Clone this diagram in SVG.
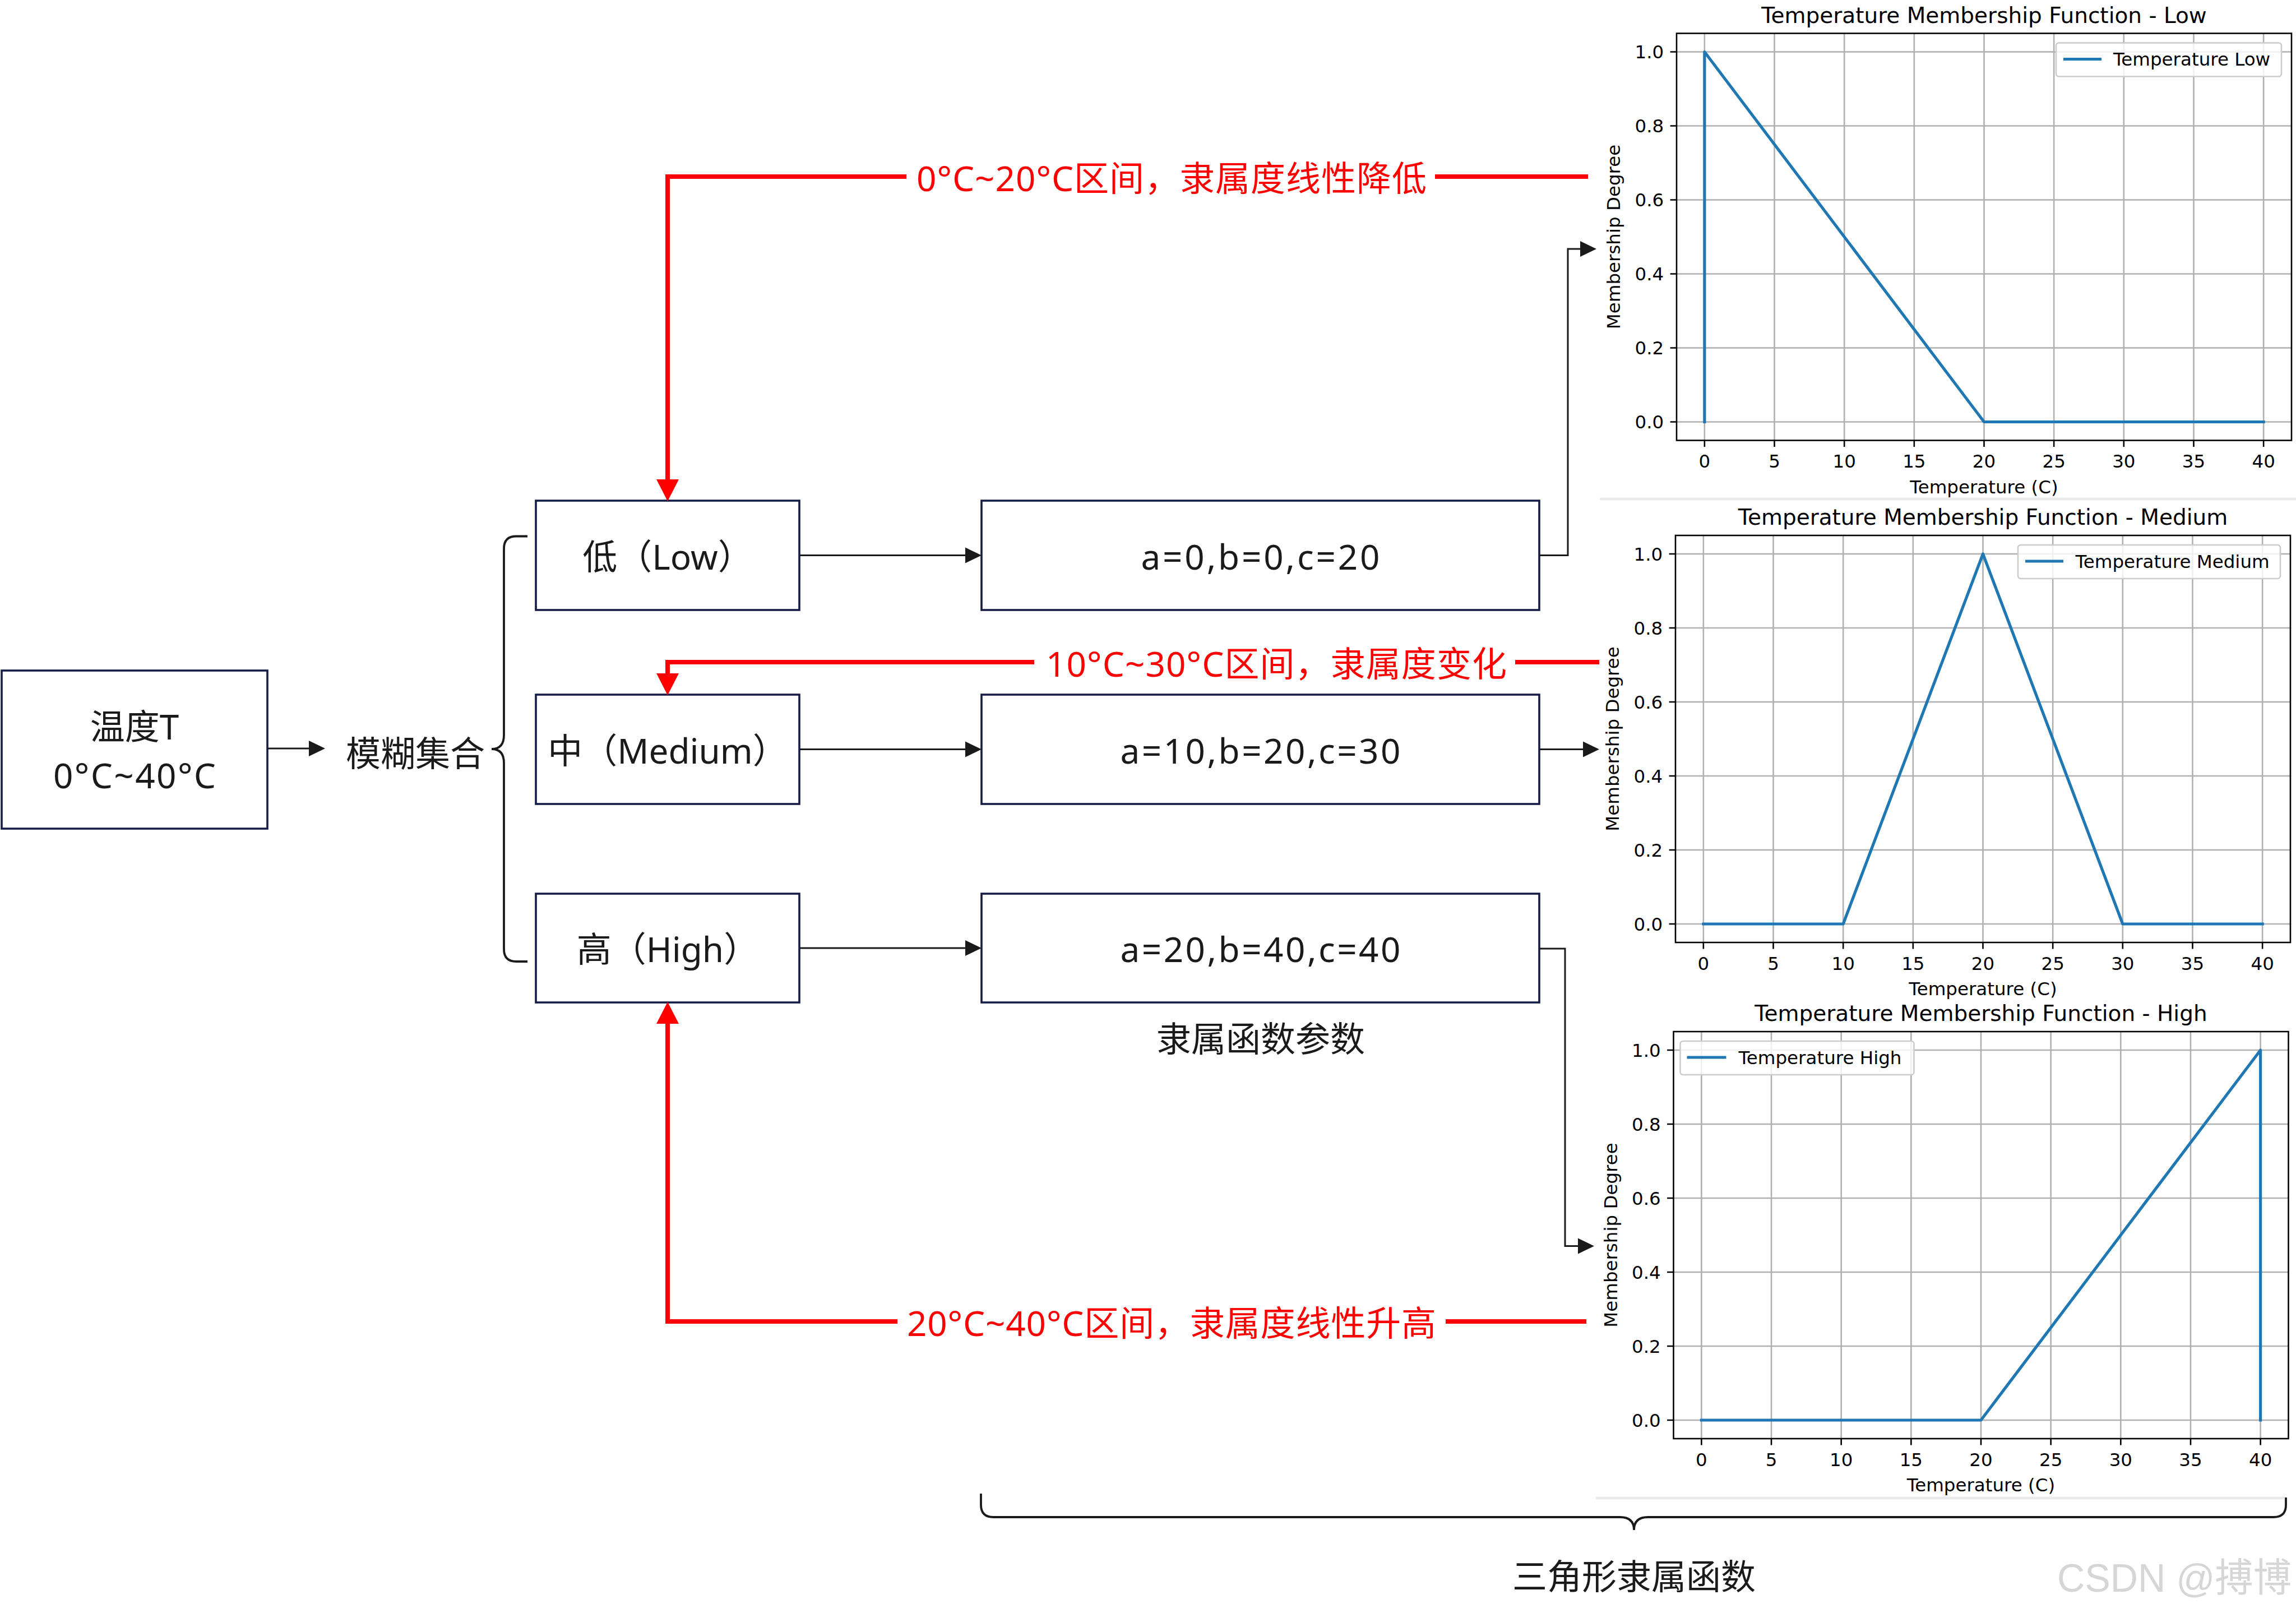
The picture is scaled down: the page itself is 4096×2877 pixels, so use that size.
<svg xmlns="http://www.w3.org/2000/svg" xmlns:xlink="http://www.w3.org/1999/xlink" width="4096" height="2877" viewBox="0 0 4096 2877">
<style>
.box{fill:#ffffff;stroke:#161c48;stroke-width:3.6}
.t{font-family:"Noto Sans","Noto Sans CJK SC",sans-serif;font-size:62px;fill:#1a1a1a}
.rt{font-family:"Noto Sans","Noto Sans CJK SC",sans-serif;font-size:62px;fill:#ff0000}
.conn{fill:none;stroke:#1a1a1a;stroke-width:3}
.rconn{fill:none;stroke:#ff0000;stroke-width:8}
.brace{fill:none;stroke:#1a1a1a;stroke-width:3.8}
.sep{stroke:#ebebeb;stroke-width:5}
.grid{fill:none;stroke:#b0b0b0;stroke-width:2.6}
.spine{fill:none;stroke:#000000;stroke-width:2.6}
.tick{fill:none;stroke:#000000;stroke-width:2.6}
.data{fill:none;stroke:#1f77b4;stroke-width:5.2;stroke-linejoin:round;stroke-linecap:square}
.ct{font-family:"DejaVu Sans",sans-serif;font-size:32.5px;fill:#000000}
.ttl{font-family:"DejaVu Sans",sans-serif;font-size:39px;fill:#000000}
.leg{fill:#ffffff;fill-opacity:0.8;stroke:#cccccc;stroke-width:2.6}
.wm{font-family:"Liberation Sans","Noto Sans CJK SC",sans-serif;font-size:70px;fill:#d6d6d6}
</style>
<defs>
<marker id="ab" markerUnits="userSpaceOnUse" markerWidth="30" markerHeight="28" refX="0" refY="14" orient="auto" overflow="visible"><path d="M0,0 L29,14 L0,28 Z" fill="#1a1a1a"/></marker>
<marker id="ar" markerUnits="userSpaceOnUse" markerWidth="40" markerHeight="40" refX="0" refY="20" orient="auto" overflow="visible"><path d="M0,0 L39,20 L0,40 Z" fill="#ff0000"/></marker>
<g id="axesbase">
<path class="grid" d="M49.86,0V726M174.52,0V726M299.18,0V726M423.84,0V726M548.5,0V726M673.16,0V726M797.82,0V726M922.48,0V726M1047.14,0V726M0,693H1097M0,561H1097M0,429H1097M0,297H1097M0,165H1097M0,33H1097"/>
<path class="tick" d="M49.86,726V737.4M174.52,726V737.4M299.18,726V737.4M423.84,726V737.4M548.5,726V737.4M673.16,726V737.4M797.82,726V737.4M922.48,726V737.4M1047.14,726V737.4M0,693H-11.4M0,561H-11.4M0,429H-11.4M0,297H-11.4M0,165H-11.4M0,33H-11.4"/>
</g>
</defs>
<rect x="0" y="0" width="4096" height="2877" fill="#ffffff"/>

<!-- image separators -->
<line class="sep" x1="2854" y1="890" x2="4096" y2="890"/>
<line class="sep" x1="2847" y1="2672" x2="4075" y2="2672"/>

<!-- nodes -->
<g id="node-temperature">
<rect class="box" x="3" y="1196" width="474" height="282"/>
<text class="t" x="240" y="1319" text-anchor="middle">温度T</text>
<text class="t" x="240" y="1406" text-anchor="middle" textLength="290" lengthAdjust="spacing">0°C~40°C</text>
</g>
<g id="node-fuzzy-set">
<text class="t" x="741" y="1367" text-anchor="middle">模糊集合</text>
</g>
<g id="brace-sets">
<path class="brace" d="M941,956.5 H921 Q899,956.5 899,978.5 V1311 Q899,1336 877,1336 Q899,1336 899,1361 V1693 Q899,1715 921,1715 H941"/>
</g>
<g id="node-low">
<rect class="box" x="956" y="893" width="470" height="195"/>
<text class="t" x="1191" y="1016" text-anchor="middle">低（Low）</text>
</g>
<g id="node-medium">
<rect class="box" x="956" y="1239" width="470" height="195"/>
<text class="t" x="1191" y="1362" text-anchor="middle">中（Medium）</text>
</g>
<g id="node-high">
<rect class="box" x="956" y="1594" width="470" height="194"/>
<text class="t" x="1191" y="1716" text-anchor="middle">高（High）</text>
</g>
<g id="node-param-low">
<rect class="box" x="1751" y="893" width="995" height="195"/>
<text class="t" x="2248.5" y="1016" text-anchor="middle" textLength="426" lengthAdjust="spacing">a=0,b=0,c=20</text>
</g>
<g id="node-param-medium">
<rect class="box" x="1751" y="1239" width="995" height="195"/>
<text class="t" x="2248.5" y="1362" text-anchor="middle" textLength="500" lengthAdjust="spacing">a=10,b=20,c=30</text>
</g>
<g id="node-param-high">
<rect class="box" x="1751" y="1594" width="995" height="194"/>
<text class="t" x="2248.5" y="1716" text-anchor="middle" textLength="500" lengthAdjust="spacing">a=20,b=40,c=40</text>
</g>
<g id="label-params">
<text class="t" x="2249" y="1876" text-anchor="middle">隶属函数参数</text>
</g>

<!-- chart: Low -->
<g id="chart-low" transform="translate(2991,59.5)">
<use xlink:href="#axesbase" href="#axesbase"/>
<path class="data" d="M49.86,693 L49.86,33 L548.5,693 L1047.14,693"/>
<rect class="spine" x="0" y="0" width="1097" height="726"/>
<g class="ct" text-anchor="end">
<text x="-22.8" y="704.8">0.0</text><text x="-22.8" y="572.8">0.2</text><text x="-22.8" y="440.8">0.4</text><text x="-22.8" y="308.8">0.6</text><text x="-22.8" y="176.8">0.8</text><text x="-22.8" y="44.8">1.0</text>
</g>
<g class="ct" text-anchor="middle">
<text x="49.86" y="774.5">0</text><text x="174.52" y="774.5">5</text><text x="299.18" y="774.5">10</text><text x="423.84" y="774.5">15</text><text x="548.5" y="774.5">20</text><text x="673.16" y="774.5">25</text><text x="797.82" y="774.5">30</text><text x="922.48" y="774.5">35</text><text x="1047.14" y="774.5">40</text>
<text x="548.5" y="820">Temperature (C)</text>
<text transform="translate(-101,363) rotate(-90)">Membership Degree</text>
</g>
<text class="ttl" x="548.5" y="-19" text-anchor="middle">Temperature Membership Function - Low</text>
<rect class="leg" x="677" y="17" width="402" height="60" rx="5"/>
<path class="data" d="M690,46 H758" style="stroke-linecap:butt"/>
<text class="ct" x="779" y="57.8">Temperature Low</text>
</g>

<!-- chart: Medium -->
<g id="chart-medium" transform="translate(2989,955)">
<use xlink:href="#axesbase" href="#axesbase"/>
<path class="data" d="M49.86,693 L299.18,693 L548.5,33 L797.82,693 L1047.14,693"/>
<rect class="spine" x="0" y="0" width="1097" height="726"/>
<g class="ct" text-anchor="end">
<text x="-22.8" y="704.8">0.0</text><text x="-22.8" y="572.8">0.2</text><text x="-22.8" y="440.8">0.4</text><text x="-22.8" y="308.8">0.6</text><text x="-22.8" y="176.8">0.8</text><text x="-22.8" y="44.8">1.0</text>
</g>
<g class="ct" text-anchor="middle">
<text x="49.86" y="774.5">0</text><text x="174.52" y="774.5">5</text><text x="299.18" y="774.5">10</text><text x="423.84" y="774.5">15</text><text x="548.5" y="774.5">20</text><text x="673.16" y="774.5">25</text><text x="797.82" y="774.5">30</text><text x="922.48" y="774.5">35</text><text x="1047.14" y="774.5">40</text>
<text x="548.5" y="820">Temperature (C)</text>
<text transform="translate(-101,363) rotate(-90)">Membership Degree</text>
</g>
<text class="ttl" x="548.5" y="-19" text-anchor="middle">Temperature Membership Function - Medium</text>
<rect class="leg" x="611" y="17" width="468" height="60" rx="5"/>
<path class="data" d="M624,46 H692" style="stroke-linecap:butt"/>
<text class="ct" x="713.5" y="57.8">Temperature Medium</text>
</g>

<!-- chart: High -->
<g id="chart-high" transform="translate(2985.5,1840)">
<use xlink:href="#axesbase" href="#axesbase"/>
<path class="data" d="M49.86,693 L548.5,693 L1047.14,33 L1047.14,693"/>
<rect class="spine" x="0" y="0" width="1097" height="726"/>
<g class="ct" text-anchor="end">
<text x="-22.8" y="704.8">0.0</text><text x="-22.8" y="572.8">0.2</text><text x="-22.8" y="440.8">0.4</text><text x="-22.8" y="308.8">0.6</text><text x="-22.8" y="176.8">0.8</text><text x="-22.8" y="44.8">1.0</text>
</g>
<g class="ct" text-anchor="middle">
<text x="49.86" y="774.5">0</text><text x="174.52" y="774.5">5</text><text x="299.18" y="774.5">10</text><text x="423.84" y="774.5">15</text><text x="548.5" y="774.5">20</text><text x="673.16" y="774.5">25</text><text x="797.82" y="774.5">30</text><text x="922.48" y="774.5">35</text><text x="1047.14" y="774.5">40</text>
<text x="548.5" y="820">Temperature (C)</text>
<text transform="translate(-101,363) rotate(-90)">Membership Degree</text>
</g>
<text class="ttl" x="548.5" y="-19" text-anchor="middle">Temperature Membership Function - High</text>
<rect class="leg" x="12" y="17" width="417" height="60" rx="5"/>
<path class="data" d="M24,46 H94" style="stroke-linecap:butt"/>
<text class="ct" x="116" y="57.8">Temperature High</text>
</g>

<g id="brace-charts">
<path class="brace" d="M1750,2664 V2684 Q1750,2706 1772,2706 H2890 Q2915,2706 2915,2729 Q2915,2706 2940,2706 H4056 Q4078,2706 4078,2684 V2671"/>
</g>
<g id="label-triangle">
<text class="t" x="2915" y="2835" text-anchor="middle">三角形隶属函数</text>
</g>

<!-- connectors -->
<g id="connectors">
<path class="conn" d="M477,1335 H551" marker-end="url(#ab)"/>
<path class="conn" d="M1427,990.5 H1722" marker-end="url(#ab)"/>
<path class="conn" d="M1427,1336.5 H1722" marker-end="url(#ab)"/>
<path class="conn" d="M1427,1691 H1722" marker-end="url(#ab)"/>
<path class="conn" d="M2746,990.5 H2797 V444 H2819" marker-end="url(#ab)"/>
<path class="conn" d="M2746,1336.5 H2824" marker-end="url(#ab)"/>
<path class="conn" d="M2746,1692 H2792 V2222.5 H2815" marker-end="url(#ab)"/>
<path class="rconn" d="M2833,315 H1191 V855" marker-end="url(#ar)"/>
<path class="rconn" d="M2853,1181 H1191 V1201" marker-end="url(#ar)"/>
<path class="rconn" d="M2830,2357 H1191 V1826" marker-end="url(#ar)"/>
<rect x="1617" y="280" width="943" height="80" fill="#ffffff"/>
<text class="rt" x="2090" y="341" text-anchor="middle" textLength="910" lengthAdjust="spacing">0°C~20°C区间，隶属度线性降低</text>
<rect x="1845" y="1146" width="858" height="80" fill="#ffffff"/>
<text class="rt" x="2277" y="1207" text-anchor="middle" textLength="822" lengthAdjust="spacing">10°C~30°C区间，隶属度变化</text>
<rect x="1601" y="2322" width="978" height="80" fill="#ffffff"/>
<text class="rt" x="2090" y="2383" text-anchor="middle" textLength="944" lengthAdjust="spacing">20°C~40°C区间，隶属度线性升高</text>
</g>

<text class="wm" x="3670" y="2839" textLength="418" lengthAdjust="spacingAndGlyphs">CSDN @搏博</text>
</svg>
